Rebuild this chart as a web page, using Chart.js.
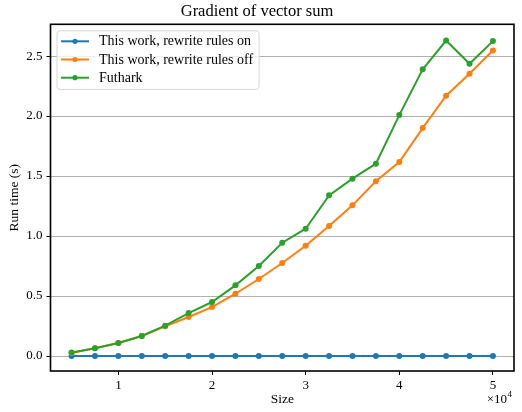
<!DOCTYPE html>
<html>
<head>
<meta charset="utf-8">
<script src="https://cdn.jsdelivr.net/npm/chart.js@4/dist/chart.umd.min.js"></script>
<style>
    html, body { margin: 0; padding: 0; background: #fff; }
    canvas { display: block; }
</style>
</head>
<body>
<canvas id="gradChart" width="522" height="412"></canvas>
<script>
// Data
const sizes = [5000, 7500, 10000, 12500, 15000, 17500, 20000, 22500, 25000, 27500,
               30000, 32500, 35000, 37500, 40000, 42500, 45000, 47500, 50000];
const rewriteOn = [0.001, 0.001, 0.001, 0.001, 0.001, 0.001, 0.001, 0.001, 0.001, 0.001,
                   0.001, 0.001, 0.001, 0.001, 0.001, 0.001, 0.001, 0.001, 0.001];
const rewriteOff = [0.025, 0.064, 0.108, 0.167, 0.247, 0.325, 0.408, 0.519, 0.642, 0.775,
                    0.919, 1.083, 1.256, 1.456, 1.617, 1.900, 2.170, 2.353, 2.547];
const futhark = [0.030, 0.064, 0.108, 0.167, 0.253, 0.358, 0.450, 0.589, 0.750, 0.944,
                 1.061, 1.339, 1.478, 1.603, 2.008, 2.390, 2.630, 2.436, 2.625];
const xTicks = [10000, 20000, 30000, 40000, 50000];
const yTicks = [0.0, 0.5, 1.0, 1.5, 2.0, 2.5];

const FONT = "'Liberation Serif', 'DejaVu Serif', serif";

function series(label, values, color, order) {
    return {
        label,
        data: values.map((v, i) => ({ x: sizes[i], y: v })),
        borderColor: color,
        backgroundColor: color,
        pointBackgroundColor: color,
        pointBorderWidth: 0,
        pointRadius: 3,
        borderWidth: 2,
        tension: 0,
        order
    };
}

// Axes frame + scale exponent label
const framePlugin = {
    id: "frame",
    afterDraw(chart) {
        const { ctx, chartArea: a } = chart;
        ctx.save();
        ctx.strokeStyle = "#000";
        ctx.lineWidth = 1.6;
        ctx.strokeRect(a.left, a.top, a.right - a.left, a.bottom - a.top);

        ctx.fillStyle = "#000";
        ctx.textBaseline = "middle";
        ctx.font = "13px " + FONT;
        ctx.textAlign = "left";
        const base = "\u00d710";
        const w = ctx.measureText(base).width;
        const x0 = a.right - w - 7;
        ctx.fillText(base, x0, 400);
        ctx.font = "9px " + FONT;
        ctx.fillText("4", x0 + w + 0.5, 395);
        ctx.restore();
    }
};

// Matplotlib-style legend box inside the axes
const boxLegend = {
    id: "boxLegend",
    afterDatasetsDraw(chart) {
        const { ctx, chartArea: a } = chart;
        const sets = chart.data.datasets;
        ctx.save();
        ctx.font = "14px " + FONT;
        let maxW = 0;
        sets.forEach(ds => { maxW = Math.max(maxW, ctx.measureText(ds.label).width); });
        const left = a.left + 6.5, top = a.top + 6.5;
        const rowH = 18.2;
        const boxW = 42 + maxW + 6, boxH = rowH * sets.length + 4;

        ctx.beginPath();
        ctx.roundRect(left, top, boxW, boxH, 3);
        ctx.fillStyle = "rgba(255,255,255,0.8)";
        ctx.fill();
        ctx.strokeStyle = "#d6d6d6";
        ctx.lineWidth = 1;
        ctx.stroke();

        sets.forEach((ds, i) => {
            const cy = top + 10.5 + i * rowH;
            ctx.strokeStyle = ds.borderColor;
            ctx.lineWidth = 2;
            ctx.beginPath();
            ctx.moveTo(left + 4, cy);
            ctx.lineTo(left + 32, cy);
            ctx.stroke();
            ctx.fillStyle = ds.borderColor;
            ctx.beginPath();
            ctx.arc(left + 18, cy, 2.6, 0, Math.PI * 2);
            ctx.fill();
            ctx.fillStyle = "#000";
            ctx.textAlign = "left";
            ctx.textBaseline = "middle";
            ctx.fillText(ds.label, left + 42, cy + 0.5);
        });
        ctx.restore();
    }
};

const ctx = document.getElementById("gradChart").getContext("2d");
const chart = new Chart(ctx, {
    type: "line",
    data: {
        datasets: [
            series("This work, rewrite rules on", rewriteOn, "#1f77b4", 3),
            series("This work, rewrite rules off", rewriteOff, "#ff7f0e", 2),
            series("Futhark", futhark, "#2ca02c", 1)
        ]
    },
    options: {
        responsive: false,
        animation: false,
        layout: { padding: { left: 0, right: 8, top: 0, bottom: 0 } },
        plugins: {
            legend: { display: false },
            tooltip: { enabled: false },
            title: {
                display: true,
                text: "Gradient of vector sum",
                color: "#000",
                font: { family: FONT, size: 16.5, weight: "normal" },
                padding: { top: 2.1, bottom: 2.4 }
            }
        },
        scales: {
            x: {
                type: "linear",
                min: 2750,
                max: 52250,
                afterBuildTicks: axis => { axis.ticks = xTicks.map(v => ({ value: v })); },
                afterFit: axis => { axis.height = 41; },
                ticks: {
                    color: "#000",
                    font: { family: FONT, size: 13 },
                    padding: 3,
                    maxRotation: 0,
                    callback: v => String(v / 10000)
                },
                grid: { drawOnChartArea: false, tickLength: 4, tickColor: "#000", tickWidth: 1 },
                border: { display: false },
                title: {
                    display: true,
                    text: "Size",
                    color: "#000",
                    font: { family: FONT, size: 13.5 },
                    padding: { top: 0, bottom: 4 }
                }
            },
            y: {
                min: -0.125,
                max: 2.765,
                afterBuildTicks: axis => { axis.ticks = yTicks.map(v => ({ value: v })); },
                afterFit: axis => { axis.width = 50.5; },
                ticks: {
                    color: "#000",
                    font: { family: FONT, size: 13 },
                    padding: 4,
                    callback: v => Number(v).toFixed(1)
                },
                grid: { color: "#b0b0b0", lineWidth: 1, tickLength: 4, tickColor: "#000" },
                border: { display: false },
                title: {
                    display: true,
                    text: "Run time (s)",
                    color: "#000",
                    font: { family: FONT, size: 13.5 },
                    padding: { top: 6, bottom: 0 }
                }
            }
        }
    },
    plugins: [boxLegend, framePlugin]
});
</script>
</body>
</html>
